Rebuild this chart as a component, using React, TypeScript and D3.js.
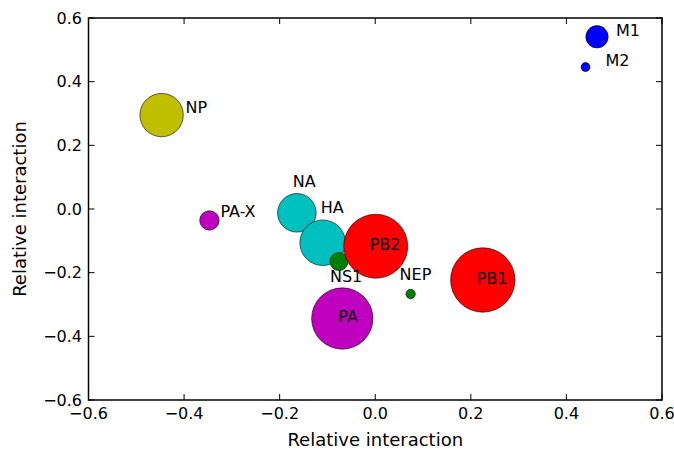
import React from "react";
import * as d3 from "d3";

const labels = ["NP", "PA-X", "NA", "HA", "NS1", "PB2", "PA", "NEP", "PB1", "M1", "M2"];
const xValues = [-0.447, -0.347, -0.164, -0.110, -0.076, 0.001, -0.069, 0.074, 0.225, 0.464, 0.440];
const yValues = [0.295, -0.036, -0.012, -0.106, -0.165, -0.117, -0.344, -0.267, -0.223, 0.541, 0.446];
const sizes = [470, 94, 372, 520, 81, 1024, 940, 22, 1037, 125, 20];
const colorNames = ["y", "m", "c", "c", "g", "r", "m", "g", "r", "b", "b"];
const xTicks = [-0.6, -0.4, -0.2, 0.0, 0.2, 0.4, 0.6];
const yTicks = [-0.6, -0.4, -0.2, 0.0, 0.2, 0.4, 0.6];

const palette: Record<string, string> = {
  y: "#bfbf00",
  m: "#bf00bf",
  c: "#00bfbf",
  g: "#008000",
  r: "#ff0000",
  b: "#0000ff",
};

// label offsets (px) relative to the marker centre: [dx, dy of baseline]
const labelOffsets: Record<string, [number, number]> = {
  NP: [24, -2],
  "PA-X": [11, -3],
  NA: [-4, -26],
  HA: [-2, -30],
  NS1: [-9, 20],
  PB2: [-6, 4],
  PA: [-4, 3],
  NEP: [-11, -14],
  PB1: [-6, 4],
  M1: [19, -1],
  M2: [20, -1],
};

const W = 674;
const H = 450;
const L = 88.5, R = 662, T = 18, B = 400;
const FONT = "DejaVu Sans, sans-serif";

const fmt = (v: number) => {
  const s = v.toFixed(1);
  return v < 0 ? "\u2212" + s.slice(1) : s;
};

export default function App() {
  const x = d3.scaleLinear().domain([-0.6, 0.6]).range([L, R]);
  const y = d3.scaleLinear().domain([-0.6, 0.6]).range([B, T]);
  const rScale = d3.scaleSqrt().domain([0, 1037]).range([0, 32.2]);
  const pts = labels.map((l, i) => ({
    label: l,
    x: xValues[i],
    y: yValues[i],
    s: sizes[i],
    c: palette[colorNames[i]],
  }));
  const tl = 6;
  return (
    <svg
      width={W}
      height={H}
      style={{ position: "absolute", left: 0, top: 0, background: "#fff" }}
      fontFamily={FONT}
    >
      <rect x={0} y={0} width={W} height={H} fill="#fff" />
      <defs>
        <clipPath id="plot">
          <rect x={L} y={T} width={R - L} height={B - T} />
        </clipPath>
      </defs>
      <g clipPath="url(#plot)">
        {pts.map((p) => (
          <circle
            key={p.label}
            cx={x(p.x)}
            cy={y(p.y)}
            r={rScale(p.s)}
            fill={p.c}
            stroke="#000"
            strokeWidth={0.6}
          />
        ))}
      </g>
      {pts.map((p) => {
        const o = labelOffsets[p.label];
        return (
          <text key={"t" + p.label} x={x(p.x) + o[0]} y={y(p.y) + o[1]} fontSize={16} fill="#000">
            {p.label}
          </text>
        );
      })}
      {/* ticks */}
      {xTicks.map((t) => (
        <g key={"xt" + t}>
          <line x1={x(t)} x2={x(t)} y1={B} y2={B - tl} stroke="#000" strokeWidth={1} />
          <line x1={x(t)} x2={x(t)} y1={T} y2={T + tl} stroke="#000" strokeWidth={1} />
          <text x={x(t)} y={419} fontSize={16} textAnchor="middle" fill="#000">
            {fmt(t)}
          </text>
        </g>
      ))}
      {yTicks.map((t) => (
        <g key={"yt" + t}>
          <line x1={L} x2={L + tl} y1={y(t)} y2={y(t)} stroke="#000" strokeWidth={1} />
          <line x1={R} x2={R - tl} y1={y(t)} y2={y(t)} stroke="#000" strokeWidth={1} />
          <text x={82} y={y(t)} dy="0.36em" fontSize={16} textAnchor="end" fill="#000">
            {fmt(t)}
          </text>
        </g>
      ))}
      <rect x={L} y={T} width={R - L} height={B - T} fill="none" stroke="#000" strokeWidth={1.5} />
      <text x={(L + R) / 2} y={446} fontSize={18} textAnchor="middle" fill="#000">
        Relative interaction
      </text>
      <text
        transform={`translate(26,${(T + B) / 2}) rotate(-90)`}
        fontSize={18}
        textAnchor="middle"
        fill="#000"
      >
        Relative interaction
      </text>
    </svg>
  );
}
